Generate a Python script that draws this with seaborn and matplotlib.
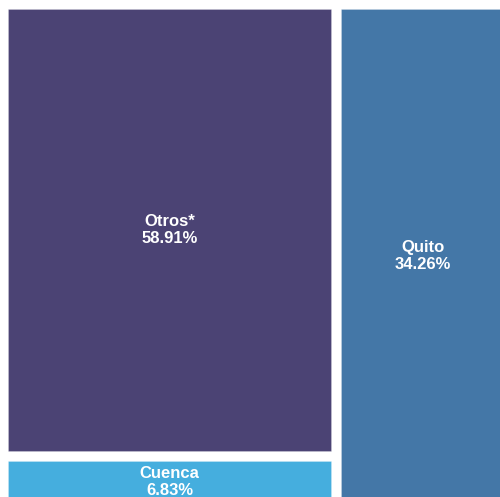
import matplotlib
matplotlib.use("Agg")
import matplotlib.pyplot as plt
from matplotlib.patches import Rectangle
import seaborn as sns

# Data
categories = ["Otros*", "Quito", "Cuenca"]
shares = [58.91, 34.26, 6.83]
colors = ["#4B4374", "#4477A7", "#45AEDE"]

sns.set_theme(style="white")
plt.rcParams["font.family"] = ["Liberation Sans", "DejaVu Sans"]

fig = plt.figure(figsize=(5.0, 4.97), dpi=100)
ax = fig.add_axes([0, 0, 1, 1])
ax.set_xlim(0, 500)
ax.set_ylim(497, 0)
ax.axis("off")

# Treemap layout (slice-and-dice: left column holds Otros + Cuenca stacked, right column Quito)
region_x, region_y, region_w, region_h = 3.0, 4.0, 507.0, 504.0
gap = 10.0
total = sum(shares)
by_name = dict(zip(categories, shares))
col_left = [c for c in categories if c != "Quito"]
col_right = ["Quito"]

rects = {}
x = region_x
for col in (col_left, col_right):
    col_sum = sum(by_name[c] for c in col)
    w = region_w * col_sum / total
    y = region_y
    for c in col:
        h = region_h * by_name[c] / col_sum
        rects[c] = (x + gap / 2, y + gap / 2, w - gap, h - gap)
        y += h
    x += w

palette = sns.color_palette(colors)
for name, col in zip(categories, palette):
    rx, ry, rw, rh = rects[name]
    ax.add_patch(Rectangle((rx, ry), rw, rh, facecolor=col,
                           edgecolor=(1, 1, 1, 0.25), linewidth=0.6))
    ax.text(rx + rw / 2, ry + rh / 2, f"{name}\n{by_name[name]:.2f}%",
            ha="center", va="center", color="white", fontsize=12,
            fontweight="bold", linespacing=1.2, clip_on=False)

fig.savefig("out.png", dpi=100)
